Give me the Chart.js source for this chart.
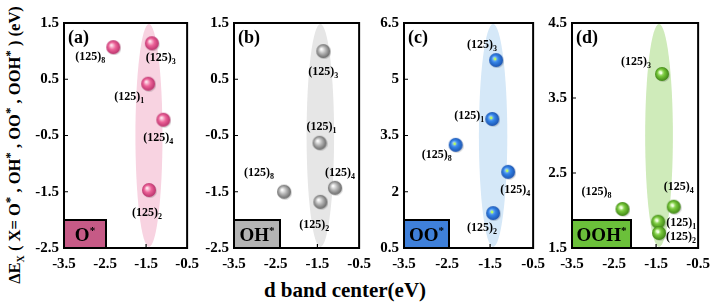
<!DOCTYPE html>
<html>
<head>
<meta charset="utf-8">
<script src="https://cdn.jsdelivr.net/npm/chart.js@4/dist/chart.umd.min.js"></script>
<style>
body { margin: 0; background: #fff; }
#wrap { position: relative; width: 712px; height: 304px; overflow: hidden; background: #fff; }
#wrap canvas { position: absolute; top: 0; }
.title { position: absolute; white-space: nowrap; font-family: 'Liberation Serif', serif; font-weight: bold; color: #000; transform: translate(-50%, -50%); }
#xTitle { left: 345px; top: 290px; font-size: 21px; }
#yTitle { left: 14px; top: 145px; font-size: 16.5px; transform: translate(-50%, -50%) rotate(-90deg); }
#yTitle sub { font-size: 10px; }
#yTitle sup { font-size: 13px; }
</style>
</head>
<body>
<div id="wrap">
  <div class="title" id="yTitle">&Delta;E<sub>X</sub> ( X= O<sup>*</sup> , OH<sup>*</sup> , OO<sup>*</sup> , OOH<sup>*</sup> ) (eV)</div>
  <div class="title" id="xTitle">d band center(eV)</div>
</div>
<script>
/* =====================================================
   DATA
===================================================== */

// surfaces, in the order (125)1, (125)2, (125)3, (125)4, (125)8
const surfaces = ["1", "2", "3", "4", "8"];
const dBandCenter = [-1.45, -1.43, -1.36, -1.08, -2.30];

const dE_O   = [0.42, -1.47, 1.14, -0.22, 1.07];
const dE_OH  = [-0.63, -1.68, 1.00, -1.43, -1.50];
const dE_OO  = [3.94, 1.43, 5.51, 2.53, 3.25];
const dE_OOH = [1.85, 1.70, 3.82, 2.05, 2.02];

const panelLetters = ["(a)", "(b)", "(c)", "(d)"];
const adsorbates = ["O", "OH", "OO", "OOH"];

const xMin = -3.5, xMax = -0.5, xStep = 1;
const yMin = [-2.5, -2.5, 0.5, 1.5];
const yMax = [1.5, 1.5, 6.5, 4.5];
const yStep = [1, 1, 1.5, 1];

// shaded band around the (125)1-4 group (d band centre, half width)
const bandCenter = -1.43;
const bandHalfWidth = 0.33;


/* =====================================================
   LOOK
===================================================== */

const FONT = "'Liberation Serif', 'Times New Roman', serif";
Chart.defaults.font.family = FONT;
Chart.defaults.color = "#000";

const plotLeft = [64, 234, 404, 572];
const plotRight = [192, 364, 538, 703];
const plotTop = 23, plotBottom = 248;
const AXIS_W = 40, PAD_R = 14, CANVAS_H = 275;

const bandColors = ["#f8d3e1", "#e6e6e6", "#d5e8f8", "#cfebba"];
const boxColors = ["#c65a86", "#b4b4b4", "#3f80da", "#6bc03a"];
const boxWidths = [42, 46, 45, 59];

// sphere colours: [highlight, body, rim, spot]
const sphereColors = [
    ["#ffe8f0", "#ec6298", "#b42e68", null],
    ["#ffffff", "#b4b4b4", "#606060", null],
    ["#a0ccff", "#3282e6", "#1a4ea8", "#b8ff5a"],
    ["#e4ffc8", "#76c63a", "#3a7e12", "#f0ffe0"]
];

// label centre offsets from each point (px), same order as surfaces
const labelOffsets = [
    [[-19, 13], [-2, 23], [9, 15], [-5, 18], [-23, 10]],
    [[2, -16], [-6, 23], [0, 21], [5, -15], [-25, -19]],
    [[-23, -3], [-11, 15], [-14, -15], [7, 18], [-19, 10]],
    [[23, 1], [22, 4], [-26, -12], [5, -20], [-26, -17]]
];


/* =====================================================
   HELPERS
===================================================== */

function makeSphere(c) {
    const cv = document.createElement("canvas");
    cv.width = cv.height = 16;
    const g = cv.getContext("2d");
    g.fillStyle = "rgba(0,0,0,0.15)";
    g.beginPath(); g.arc(9, 9, 7, 0, Math.PI * 2); g.fill();
    const grad = g.createRadialGradient(6, 6, 0.5, 8, 8, 7.5);
    grad.addColorStop(0, c[0]);
    grad.addColorStop(0.45, c[1]);
    grad.addColorStop(1, c[2]);
    g.fillStyle = grad;
    g.beginPath(); g.arc(8, 8, 7, 0, Math.PI * 2); g.fill();
    if (c[3]) {
        g.fillStyle = c[3];
        g.beginPath(); g.arc(7, 7, 1.4, 0, Math.PI * 2); g.fill();
    }
    return cv;
}

const panelPlugin = {
    id: "panel",

    beforeDatasetsDraw(chart, args, o) {
        const { ctx, chartArea: a, scales: { x } } = chart;
        const cx = x.getPixelForValue(bandCenter);
        const rx = x.getPixelForValue(bandCenter + bandHalfWidth) - cx;
        const cy = (a.top + a.bottom) / 2;
        const ry = (a.bottom - a.top) / 2 - 1;
        ctx.save();
        ctx.fillStyle = bandColors[o.i];
        ctx.beginPath();
        ctx.ellipse(cx, cy, rx, ry, 0, 0, Math.PI * 2);
        ctx.fill();
        ctx.restore();
    },

    afterDatasetsDraw(chart, args, o) {
        const { ctx, chartArea: a, scales: { x, y } } = chart;
        const meta = chart.getDatasetMeta(0);
        ctx.save();
        ctx.fillStyle = "#000";
        ctx.textBaseline = "alphabetic";

        // point labels (125)n
        meta.data.forEach((pt, k) => {
            const [dx, dy] = labelOffsets[o.i][k];
            ctx.font = "bold 12px " + FONT;
            const w1 = ctx.measureText("(125)").width;
            ctx.font = "bold 8px " + FONT;
            const w2 = ctx.measureText(surfaces[k]).width;
            const sx = pt.x + dx - (w1 + w2) / 2;
            const by = pt.y + dy + 3;
            ctx.font = "bold 12px " + FONT;
            ctx.fillText("(125)", sx, by);
            ctx.font = "bold 8px " + FONT;
            ctx.fillText(surfaces[k], sx + w1, by + 3);
        });

        // panel letter
        ctx.font = "bold 18px " + FONT;
        ctx.fillText(panelLetters[o.i], a.left + 4, a.top + 20);

        // adsorbate box
        const bw = boxWidths[o.i], bh = 28;
        ctx.fillStyle = boxColors[o.i];
        ctx.fillRect(a.left, a.bottom - bh, bw, bh);
        ctx.lineWidth = 2;
        ctx.strokeStyle = "#000";
        ctx.strokeRect(a.left, a.bottom - bh, bw, bh);
        ctx.fillStyle = "#000";
        ctx.font = "bold 19px " + FONT;
        const tw = ctx.measureText(adsorbates[o.i]).width;
        ctx.font = "bold 11px " + FONT;
        const sw = ctx.measureText("*").width;
        const tx = a.left + (bw - tw - sw) / 2;
        ctx.font = "bold 19px " + FONT;
        ctx.fillText(adsorbates[o.i], tx, a.bottom - 7);
        ctx.font = "bold 11px " + FONT;
        ctx.fillText("*", tx + tw, a.bottom - 14);

        // frame
        ctx.lineWidth = 2;
        ctx.strokeRect(a.left, a.top, a.right - a.left, a.bottom - a.top);

        // small inner ticks
        ctx.lineWidth = 1.2;
        ctx.beginPath();
        y.ticks.forEach(t => {
            const py = y.getPixelForValue(t.value);
            if (py > a.top + 2 && py < a.bottom - 2) {
                ctx.moveTo(a.left, py); ctx.lineTo(a.left + 4, py);
            }
        });
        x.ticks.forEach(t => {
            const px = x.getPixelForValue(t.value);
            if (px > a.left + bw + 2 && px < a.right - 2) {
                ctx.moveTo(px, a.bottom); ctx.lineTo(px, a.bottom - 4);
            }
        });
        ctx.stroke();
        ctx.restore();
    }
};


/* =====================================================
   DRAW PANELS
===================================================== */

const wrap = document.getElementById("wrap");
const series = [dE_O, dE_OH, dE_OO, dE_OOH];

series.forEach((vals, i) => {
    const cv = document.createElement("canvas");
    const w = plotRight[i] - plotLeft[i] + AXIS_W + PAD_R;
    cv.width = w;
    cv.height = CANVAS_H;
    cv.style.left = (plotLeft[i] - AXIS_W) + "px";
    cv.style.width = w + "px";
    cv.style.height = CANVAS_H + "px";
    wrap.appendChild(cv);

    new Chart(cv, {
        type: "scatter",
        data: {
            datasets: [{
                data: vals.map((v, k) => ({ x: dBandCenter[k], y: v })),
                pointStyle: makeSphere(sphereColors[i]),
                pointRadius: 7,
                clip: false
            }]
        },
        options: {
            responsive: false,
            animation: false,
            events: [],
            layout: { padding: { top: plotTop, right: PAD_R, left: 0, bottom: 0 } },
            plugins: {
                legend: { display: false },
                tooltip: { enabled: false },
                panel: { i }
            },
            scales: {
                x: {
                    type: "linear",
                    min: xMin, max: xMax,
                    grid: { display: false, drawTicks: false },
                    border: { display: false },
                    ticks: {
                        stepSize: xStep,
                        padding: 7,
                        font: { size: 15, weight: "bold" },
                        callback: v => String(v)
                    },
                    afterFit: s => { s.height = CANVAS_H - plotBottom; }
                },
                y: {
                    type: "linear",
                    min: yMin[i], max: yMax[i],
                    grid: { display: false, drawTicks: false },
                    border: { display: false },
                    ticks: {
                        stepSize: yStep[i],
                        padding: 5,
                        font: { size: 15, weight: "bold" },
                        callback: v => String(v)
                    },
                    afterFit: s => { s.width = AXIS_W; }
                }
            }
        },
        plugins: [panelPlugin]
    });
});
</script>
</body>
</html>
